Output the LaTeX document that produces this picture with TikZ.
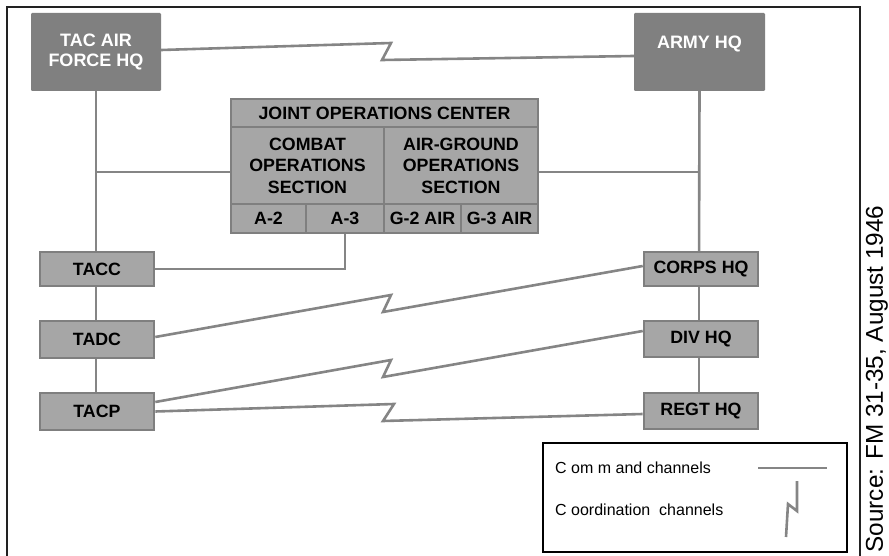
\documentclass[tikz,border=0pt]{standalone}
\usepackage{fontspec}
\setmainfont{Liberation Sans}
\usetikzlibrary{calc}
\definecolor{hqdark}{HTML}{808080}
\definecolor{cellfill}{HTML}{A6A6A6}
\definecolor{cellline}{HTML}{7F7F7F}
\definecolor{linkgray}{HTML}{858585}
\definecolor{framecol}{HTML}{222222}
\tikzset{
  hqbox/.style={fill=hqdark, rounded corners=1.2pt, text=white, align=center,
    inner sep=0pt, font=\bfseries\fontsize{18}{20.5}\selectfont},
  cell/.style={draw=cellline, line width=2.6pt, fill=cellfill, align=center,
    inner sep=0pt, font=\bfseries\fontsize{17.8}{21.5}\selectfont},
  unitbox/.style={cell, minimum width=114pt},
  link/.style={draw=linkgray, line width=2.6pt, line join=miter},
  legendtext/.style={anchor=west, inner sep=0pt, font=\fontsize{16}{18}\selectfont},
}
\begin{document}
\begin{tikzpicture}[x=1pt, y=-1pt]
\useasboundingbox (0,0) rectangle (889,556);
% outer frame
\draw[framecol, line width=2pt] (7,560) -- (7,7) -- (860,7) -- (860,560);

% headquarters
\node[hqbox, minimum width=130pt, minimum height=78pt] (tafhq) at (96,52) {TAC AIR\\FORCE HQ};
\node[hqbox, minimum width=131pt, minimum height=78pt] (armyhq) at (699.5,52) {ARMY HQ\\\mbox{}};

% command lines (drawn first so boxes sit on top)
\coordinate (jl) at (96,172);
\coordinate (jr) at (699,172);
\path[link] (tafhq.south) -- (96,269);
\path[link] (armyhq.south) -- (699,269);
\path[link] (96,269) -- (96,411);
\path[link] (699,269) -- (699,411);

% joint operations center
\node[cell, minimum width=307pt, minimum height=28pt] (joc) at (384.5,113) {JOINT OPERATIONS CENTER};
\node[cell, minimum width=153pt, minimum height=77pt] (combat) at (307.5,165.5) {COMBAT\\OPERATIONS\\SECTION};
\node[cell, minimum width=154pt, minimum height=77pt] (airground) at (461,165.5) {AIR-GROUND\\OPERATIONS\\SECTION};
\node[cell, minimum width=75pt, minimum height=29pt] (a2) at (268.5,218.5) {A-2};
\node[cell, minimum width=78pt, minimum height=29pt] (a3) at (345,218.5) {A-3};
\node[cell, minimum width=77pt, minimum height=29pt] (g2) at (422.5,218.5) {G-2 AIR};
\node[cell, minimum width=77pt, minimum height=29pt] (g3) at (499.5,218.5) {G-3 AIR};

\path[link] (jl) -- (jl -| combat.west);
\path[link] (jr) -- (jr -| airground.east);

% air force units
\node[unitbox, minimum height=34pt] (tacc) at (97,269) {TACC};
\node[unitbox, minimum height=37pt] (tadc) at (97,339.5) {TADC};
\node[unitbox, minimum height=37pt] (tacp) at (97,411.5) {TACP};

% ground units
\node[unitbox, minimum height=34pt] (corps) at (701,269) {CORPS HQ};
\node[unitbox, minimum height=36pt] (div) at (701,339) {DIV HQ};
\node[unitbox, minimum height=36pt] (regt) at (701,411) {REGT HQ};

% TACC to A-3
\path[link] (tacc.east) -| (a3.south);

% coordination channels
\path[link] ([yshift=2pt]tafhq.east) -- (391,43) -- (382,60) -- ([yshift=-4pt]armyhq.west);
\path[link] ([yshift=2.5pt]tadc.east) -- (391,295) -- (383,312) -- ([yshift=3pt]corps.west);
\path[link] ([yshift=9.5pt]tacp.east) -- (391,360) -- (383,377) -- ([yshift=8pt]div.west);
\path[link] (tacp.east) -- (394,404) -- (383,421) -- ([yshift=-3pt]regt.west);

% legend
\node[draw=black, line width=2pt, minimum width=304pt, minimum height=109pt, inner sep=0pt] (legend) at (695,497.5) {};
\node[legendtext] (cmdtext) at (555,468) {C om m and channels};
\node[legendtext] (coordtext) at (555,510) {C oordination\ \ channels};
\coordinate (cmda) at (758,468);
\coordinate (cmdb) at (827,468);
\path[link] (cmda) -- (cmdb);
\coordinate (corda) at (797,481);
\coordinate (cordb) at (786,537);
\path[link] (corda) -- (797,511) -- (788,504) -- (cordb);

% source note
\node[rotate=90, inner sep=0pt, font=\fontsize{24.3}{28}\selectfont] (source) at (877,379) {Source: FM 31-35, August 1946};
\end{tikzpicture}
\end{document}
